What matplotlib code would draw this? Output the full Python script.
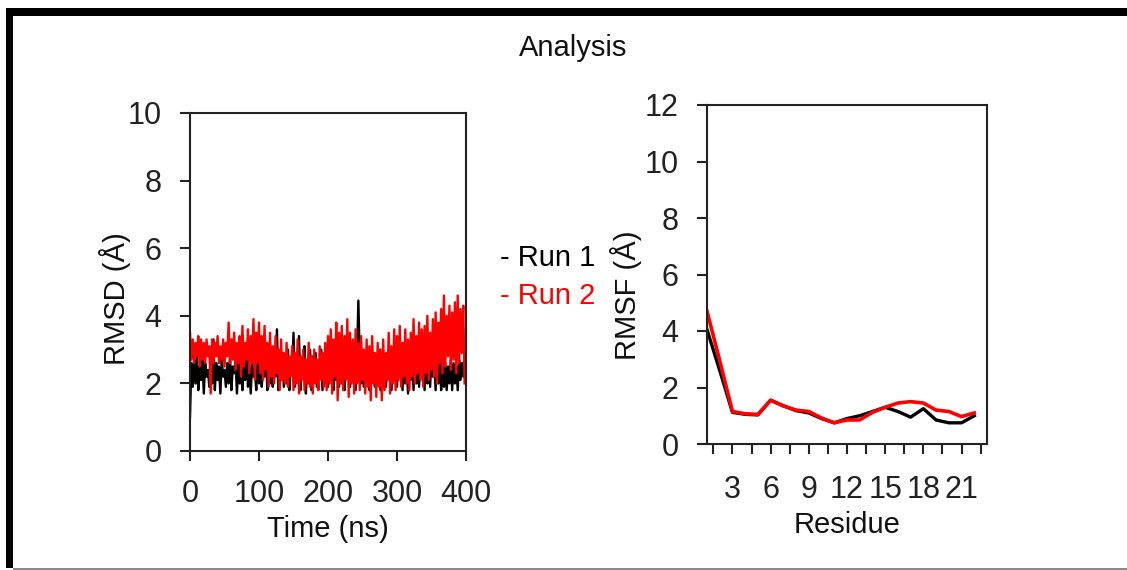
import numpy as np
import matplotlib
matplotlib.use("Agg")
import matplotlib.pyplot as plt
from matplotlib.patches import Rectangle
from matplotlib.ticker import MultipleLocator

plt.rcParams['font.family'] = ['Liberation Sans', 'DejaVu Sans']

# --- RMSD (time series, every 2 ns) ---
tempo = np.arange(0, 400, 2)

rmsd_run1 = [
    1.0, 2.6, 1.9, 2.7, 2.0, 2.8, 1.8, 2.5, 2.1, 2.7,
    1.7, 2.6, 2.2, 2.4, 1.9, 2.8, 2.0, 3.3, 1.8, 2.6,
    2.1, 2.5, 1.7, 2.7, 2.2, 2.4, 1.9, 2.6, 2.0, 2.8,
    1.8, 2.5, 2.3, 2.7, 1.7, 2.6, 2.0, 2.4, 1.8, 2.7,
    2.1, 3.1, 1.9, 2.5, 1.7, 2.6, 2.2, 2.4, 1.8, 2.7,
    2.0, 2.9, 1.9, 2.6, 2.2, 3.2, 1.8, 2.7, 2.0, 2.5,
    1.9, 2.8, 2.2, 3.6, 1.8, 2.6, 2.1, 2.9, 1.9, 2.7,
    2.0, 3.0, 1.8, 2.6, 2.3, 3.5, 1.9, 2.8, 2.1, 3.4,
    1.8, 2.7, 2.2, 3.1, 1.7, 2.6, 2.0, 3.0, 1.8, 2.8,
    2.1, 2.9, 1.9, 2.6, 2.2, 3.0, 1.8, 2.7, 2.0, 2.8,
    1.9, 2.7, 2.2, 3.0, 1.8, 2.6, 2.1, 2.9, 1.9, 2.8,
    2.0, 2.7, 1.8, 3.1, 2.2, 2.8, 1.9, 2.6, 2.1, 3.0,
    1.8, 2.7, 4.45, 2.7, 2.0, 2.9, 1.9, 2.6, 2.2, 3.0,
    1.8, 2.7, 2.1, 2.9, 1.9, 2.6, 2.2, 3.0, 1.8, 2.7,
    2.0, 2.8, 1.9, 2.6, 2.2, 2.9, 1.8, 2.7, 2.1, 2.8,
    1.9, 3.0, 2.2, 2.7, 1.8, 2.9, 2.0, 2.6, 1.7, 2.8,
    2.1, 2.7, 1.8, 3.0, 2.0, 2.6, 1.9, 2.8, 2.2, 3.2,
    1.8, 3.5, 2.0, 2.7, 1.9, 2.9, 2.2, 2.6, 1.8, 2.8,
    2.0, 2.7, 1.8, 3.8, 1.9, 2.6, 1.8, 2.5, 2.0, 2.7,
    1.8, 2.6, 2.0, 2.5, 1.8, 2.7, 2.1, 2.6, 2.2, 3.0,
]

rmsd_run2 = [
    3.5, 2.7, 3.3, 2.6, 3.2, 2.8, 3.4, 2.5, 3.3, 2.7,
    3.2, 2.6, 3.3, 2.8, 3.1, 1.7, 3.3, 2.6, 3.2, 2.8,
    3.4, 2.6, 3.1, 2.7, 3.3, 2.5, 3.2, 2.8, 3.8, 2.6,
    3.3, 2.7, 3.5, 2.4, 3.2, 2.6, 3.4, 2.2, 3.7, 2.5,
    3.2, 2.7, 3.6, 2.3, 3.4, 2.6, 3.9, 2.1, 3.5, 2.6,
    3.8, 2.3, 3.4, 2.1, 3.7, 2.4, 3.2, 1.9, 3.5, 2.2,
    3.1, 2.0, 3.4, 2.3, 3.0, 1.8, 3.3, 2.1, 2.9, 2.0,
    3.2, 1.9, 2.8, 2.2, 3.1, 1.8, 2.9, 2.0, 3.3, 1.7,
    2.8, 2.1, 3.0, 1.8, 2.7, 2.0, 3.2, 1.9, 2.8, 1.7,
    3.0, 2.0, 2.7, 1.8, 3.1, 2.1, 2.9, 1.9, 3.2, 1.8,
    3.4, 2.0, 3.6, 1.7, 3.3, 2.2, 3.8, 1.5, 3.5, 2.0,
    3.7, 1.8, 3.4, 2.1, 3.9, 1.6, 3.5, 2.0, 3.3, 1.7,
    3.6, 2.0, 3.2, 1.8, 3.4, 2.1, 3.0, 1.7, 3.3, 1.9,
    3.1, 1.5, 3.4, 2.0, 2.9, 1.6, 3.2, 1.9, 3.0, 1.5,
    3.3, 1.8, 2.9, 2.1, 3.5, 1.7, 3.1, 2.0, 3.6, 1.8,
    3.4, 2.1, 3.7, 1.9, 3.2, 2.2, 3.6, 2.0, 3.3, 1.8,
    3.5, 2.2, 3.9, 2.0, 3.4, 2.3, 3.8, 2.1, 3.6, 1.9,
    3.7, 2.3, 4.0, 2.1, 3.5, 2.4, 3.9, 2.2, 4.1, 2.0,
    3.8, 2.6, 4.2, 2.3, 4.6, 2.5, 4.0, 2.8, 4.3, 2.4,
    4.1, 2.7, 4.4, 2.3, 4.6, 2.6, 4.2, 2.9, 4.3, 2.0,
]

# --- RMSF por resíduo ---
residuos = np.arange(1, 23)
rmsf_run1 = [4.05, 2.6, 1.12, 1.05, 1.03, 1.55, 1.35, 1.18, 1.1, 0.9, 0.75,
             0.9, 1.0, 1.15, 1.3, 1.15, 0.95, 1.25, 0.85, 0.75, 0.75, 1.0]
rmsf_run2 = [4.7, 2.95, 1.15, 1.07, 1.05, 1.55, 1.35, 1.2, 1.15, 0.92, 0.75,
             0.85, 0.85, 1.12, 1.3, 1.45, 1.5, 1.45, 1.2, 1.15, 0.97, 1.1]

cor_tick = '#222222'
fs_tick = 22
fs_label = 21

fig = plt.figure(figsize=(11.27, 5.70), dpi=100)

# moldura
fig.add_artist(Rectangle((6/1127, 554/570), 1 - 6/1127, 8/570, transform=fig.transFigure,
                         facecolor='black', edgecolor='none'))
fig.add_artist(Rectangle((6/1127, 2/570), 7/1127, 560/570, transform=fig.transFigure,
                         facecolor='black', edgecolor='none'))
fig.add_artist(Rectangle((13/1127, 0.5/570), 1 - 13/1127, 2/570, transform=fig.transFigure,
                         facecolor='#8a8a8a', edgecolor='none'))

fig.text(573/1127, 1 - 48/570, 'Analysis', ha='center', va='center', fontsize=21, color='#111111')

# --- painel RMSD ---
ax1 = fig.add_axes([190/1127, 119/570, 276/1127, 338/570])
ax1.plot(tempo, rmsd_run1, color='black', lw=1.7)
ax1.plot(tempo, rmsd_run2, color='#ff0000', lw=1.7)
ax1.set_xlim(0, 400)
ax1.set_ylim(0, 10)
ax1.set_xticks([0, 100, 200, 300, 400])
ax1.set_yticks([0, 2, 4, 6, 8, 10])
ax1.set_xlabel('Time (ns)', fontsize=fs_label, color='#111111', labelpad=4)
ax1.set_ylabel('RMSD (Å)', fontsize=fs_label, color='#111111')
ax1.yaxis.set_label_coords(-0.215, 0.45)

# --- painel RMSF ---
ax2 = fig.add_axes([707/1127, 126/570, 280/1127, 339/570])
ax2.plot(residuos, rmsf_run1, color='black', lw=2.4)
ax2.plot(residuos, rmsf_run2, color='#ff0000', lw=2.6)
ax2.set_xlim(1, 23)
ax2.set_ylim(0, 12)
ax2.xaxis.set_major_locator(MultipleLocator(3))
ax2.xaxis.set_minor_locator(MultipleLocator(1.5))
ax2.set_yticks([0, 2, 4, 6, 8, 10, 12])
ax2.set_xlabel('Residue', fontsize=fs_label, color='#111111', labelpad=4)
ax2.set_ylabel('RMSF (Å)', fontsize=fs_label, color='#111111')
ax2.yaxis.set_label_coords(-0.232, 0.44)

for ax in (ax1, ax2):
    for s in ax.spines.values():
        s.set_linewidth(1.5)
        s.set_color('#222222')
    ax.tick_params(axis='both', which='both', direction='out', length=7.5, width=1.5,
                   colors='#222222', labelsize=fs_tick, pad=13, labelcolor=cor_tick)

ax2.tick_params(axis='x', which='major', pad=15)
ax2.set_xticklabels([str(int(v)) if 3 <= v <= 21 else '' for v in ax2.get_xticks()])

# legenda em texto
fig.text(500/1127, 1 - 258/570, '- Run 1', color='black', fontsize=21, va='center', ha='left')
fig.text(500/1127, 1 - 296/570, '- Run 2', color='#ff0000', fontsize=21, va='center', ha='left')

fig.savefig('out.png', dpi=100, facecolor='white')
